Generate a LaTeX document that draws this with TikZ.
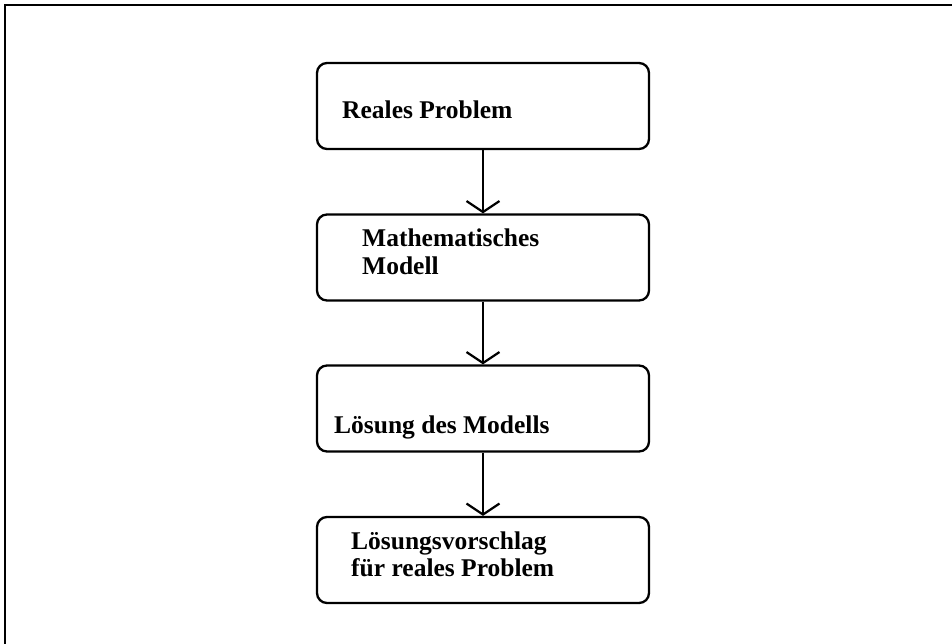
\documentclass[tikz,border=0pt]{standalone}
\usepackage{fontspec}
\setmainfont{Liberation Serif}
\usetikzlibrary{arrows.meta}
\tikzset{
  stagebox/.style={draw, line width=2.3pt, rounded corners=10pt,
    minimum width=332pt, minimum height=86pt, inner sep=0pt},
  label/.style={font=\fontsize{25.5}{27.5}\selectfont\bfseries, inner sep=0pt,
    align=left, anchor=base west},
  flow/.style={line width=2.2pt, -{Straight Barb[length=11pt,width=33pt,line width=2.2pt]}},
  frame/.style={line width=2.8pt}
}
\begin{document}
\begin{tikzpicture}[x=1pt,y=-1pt]
  \useasboundingbox (0,0) rectangle (952,644);
  % open frame: top and left edges only
  \coordinate (fl) at (5,644);
  \coordinate (fc) at (5,5);
  \coordinate (fr) at (952,5);
  \draw[frame] (fl) -- (fc) -- (fr);

  % stages
  \node[stagebox] (b1) at (483,106) {};
  \node[stagebox] (b2) at (483,257.5) {};
  \node[stagebox] (b3) at (483,408.5) {};
  \node[stagebox] (b4) at (483,560) {};

  % labels (anchored at the baseline of their last line)
  \node[label] (t1) at (342,119) {Reales Problem};
  \node[label] (t2) at (362,274) {Mathematisches\\Modell};
  \node[label] (t3) at (334,433) {Lösung des Modells};
  \node[label] (t4) at (351,576.5) {Lösungsvorschlag\\für reales Problem};

  % connectors
  \draw[flow] (b1.south) -- (b2.north);
  \draw[flow] (b2.south) -- (b3.north);
  \draw[flow] (b3.south) -- (b4.north);
\end{tikzpicture}
\end{document}
